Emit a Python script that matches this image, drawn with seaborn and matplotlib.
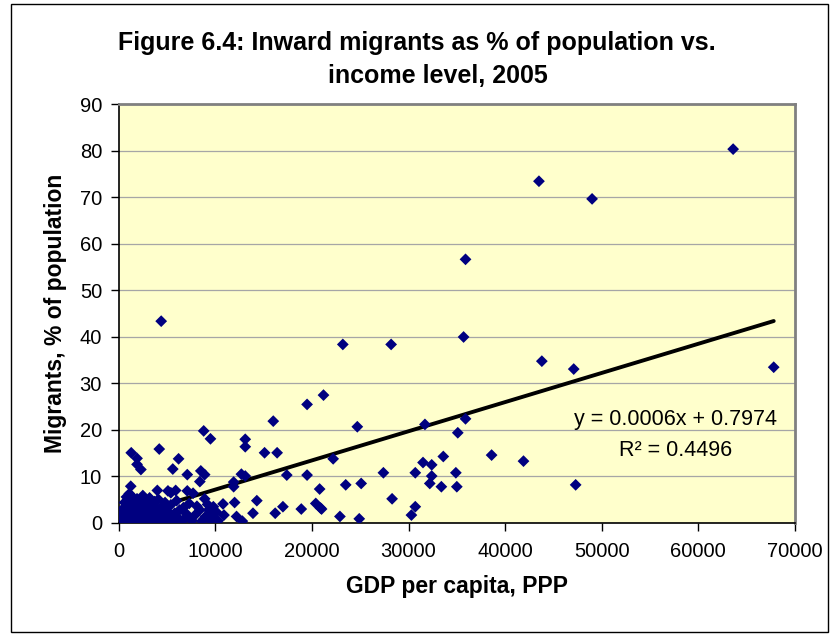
import matplotlib
matplotlib.use("Agg")
import matplotlib.pyplot as plt
import seaborn as sns
import pandas as pd
from matplotlib.patches import Rectangle

# GDP per capita (PPP) and inward migrants as % of population
gdp_ppp = [
    63600, 43500, 49000, 35900, 4400, 35700, 23200, 28200, 43800, 47100,
    67800, 21200, 19500, 16000, 24700, 31700, 35900, 35100, 38600, 41900,
    47300, 34900, 35000, 33600, 33400, 32400, 31500, 32400, 32200, 30700,
    30700, 30300, 28300, 27400, 25100, 23500, 22200, 24900, 22900, 21000,
    20400, 20800, 20900, 19500, 18900, 17400, 17000, 16200, 16400, 15100,
    14300, 13900, 13100, 13100, 13100, 12800, 12700, 11900, 11900, 12000,
    12200, 10900, 10800, 10100, 9800, 9600, 9300, 9500, 8800, 8900,
    8800, 8500, 8900, 8400, 8400, 7700, 7100, 7100, 7400, 6900,
    6300, 6200, 5600, 5900, 5100, 5400, 4000, 4200, 1300, 1900,
    1900, 2300, 1250,
    200, 300, 400, 500, 550, 600, 700, 750, 800, 900,
    1000, 1050, 1100, 1200, 1300, 1350, 1400, 1500, 1600, 1700,
    1800, 1900, 2000, 2100, 2200, 2300, 2400, 2500, 2600, 2700,
    2800, 2900, 3000, 3100, 3200, 3300, 3400, 3500, 3600, 3700,
    3800, 3900, 4000, 4100, 4200, 4400, 4500, 4600, 4800, 4900,
    5000, 5200, 5400, 5600, 5800, 6000, 6200, 6500, 6700, 7000,
    7300, 7600, 7900, 8100, 8600, 9000, 9200, 9500, 9900, 10300,
]
migrant_pct = [
    80.4, 73.5, 69.7, 56.7, 43.4, 40.0, 38.4, 38.4, 34.8, 33.1,
    33.5, 27.5, 25.5, 21.9, 20.7, 21.2, 22.4, 19.4, 14.6, 13.3,
    8.2, 10.8, 7.8, 14.3, 7.8, 12.5, 13.0, 10.1, 8.5, 10.8,
    3.5, 1.7, 5.2, 10.8, 8.5, 8.2, 13.8, 0.9, 1.4, 3.0,
    4.2, 7.3, 3.2, 10.3, 3.0, 10.3, 3.5, 2.1, 15.1, 15.1,
    4.8, 2.1, 18.0, 16.4, 10.1, 0.4, 10.5, 8.8, 7.8, 4.4,
    1.4, 1.7, 4.1, 2.4, 3.5, 1.2, 2.8, 18.1, 19.8, 5.2,
    0.8, 11.2, 10.4, 8.9, 2.8, 6.4, 10.4, 6.9, 0.8, 1.1,
    2.8, 13.8, 11.6, 7.0, 6.9, 6.5, 7.0, 15.9, 15.1, 13.9,
    12.6, 11.5, 7.9,
    0.9, 2.0, 0.3, 3.2, 1.3, 4.4, 0.6, 2.6, 5.6, 1.8,
    3.8, 0.4, 6.3, 2.4, 4.9, 1.1, 5.7, 3.0, 0.7, 4.1,
    1.9, 5.2, 0.3, 3.5, 2.2, 4.7, 1.3, 5.9, 0.5, 3.1,
    1.8, 4.3, 0.9, 2.7, 5.4, 1.5, 3.7, 0.4, 2.3, 4.6,
    1.1, 3.2, 0.3, 5.1, 2.0, 0.8, 3.6, 1.6, 4.4, 0.5,
    2.6, 1.2, 3.9, 0.4, 2.1, 4.8, 1.0, 0.3, 3.3, 2.0,
    4.2, 0.5, 1.7, 3.6, 0.4, 1.4, 4.0, 0.6, 2.0, 0.5,
]

x_ticks = list(range(0, 70001, 10000))
y_ticks = list(range(0, 91, 10))
equation_text = "y = 0.0006x + 0.7974"
r2_text = "R\u00b2 = 0.4496"

df = pd.DataFrame({"gdp": gdp_ppp, "migrants": migrant_pct})

sns.set_theme(style="ticks")
plt.rcParams["font.family"] = ["Liberation Sans", "DejaVu Sans"]
plt.rcParams["text.color"] = "black"
plt.rcParams["axes.labelcolor"] = "black"
plt.rcParams["xtick.color"] = "black"
plt.rcParams["ytick.color"] = "black"

fig = plt.figure(figsize=(8.34, 6.36), dpi=100)
fig.patch.set_facecolor("white")
# outer chart frame
fig.patches.append(Rectangle((11 / 834, 4 / 636), 817 / 834, 628 / 636,
                             transform=fig.transFigure, fill=False,
                             edgecolor="black", linewidth=1))

ax = fig.add_axes([0.1423, 0.1777, 0.8109, 0.6580])
ax.set_facecolor("#FFFFCC")
ax.set_axisbelow(True)
ax.yaxis.grid(True, color="#A6A6A6", linewidth=0.9)

sns.scatterplot(data=df, x="gdp", y="migrants", marker="D", s=36,
                color="#000080", edgecolor="none", ax=ax, zorder=3)
sns.regplot(data=df, x="gdp", y="migrants", scatter=False, ci=None,
            truncate=True, line_kws=dict(color="black", linewidth=2.8),
            ax=ax)

ax.set_xlim(0, 70000)
ax.set_ylim(0, 90)
ax.set_xticks(x_ticks)
ax.set_yticks(y_ticks)
ax.tick_params(direction="out", length=6, width=1, color="black",
               labelcolor="black", labelsize=14.5)
ax.tick_params(axis="x", pad=8)
ax.tick_params(axis="y", pad=6)

for side in ["top", "right"]:
    ax.spines[side].set_visible(True)
    ax.spines[side].set_color("#808080")
    ax.spines[side].set_linewidth(2)
for side in ["left", "bottom"]:
    ax.spines[side].set_color("black")
    ax.spines[side].set_linewidth(1.2)

ax.set_xlabel("GDP per capita, PPP", fontsize=16.5, fontweight="bold",
              color="black")
ax.set_ylabel("Migrants, % of population", fontsize=16.5, fontweight="bold",
              color="black")
ax.xaxis.set_label_coords(0.5, -0.125)
ax.yaxis.set_label_coords(-0.076, 0.5)

ax.text(57600, 22.2, equation_text, ha="center", va="center", fontsize=15.5,
        color="black")
ax.text(57600, 15.6, r2_text, ha="center", va="center", fontsize=15.5,
        color="black")

fig.text(417 / 834, 1 - 43 / 636, "Figure 6.4: Inward migrants as % of population vs.",
         ha="center", va="center", fontsize=18, fontweight="bold", color="black")
fig.text(438 / 834, 1 - 76 / 636, "income level, 2005",
         ha="center", va="center", fontsize=18, fontweight="bold", color="black")

fig.savefig("out.png", dpi=100)
